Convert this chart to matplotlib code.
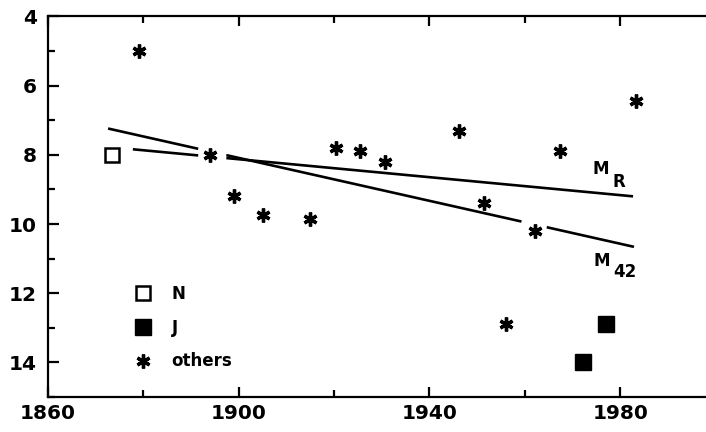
import numpy as np
import matplotlib
matplotlib.use('Agg')
import matplotlib.pyplot as plt
from matplotlib.ticker import FixedLocator, MultipleLocator

# observations
others_year = [1879, 1894, 1899, 1905, 1915, 1920.4, 1925.4, 1930.7, 1946.2,
               1951.5, 1956, 1962.2, 1967.4, 1983.3]
others_val = [5.0, 8.0, 9.2, 9.75, 9.85, 7.8, 7.9, 8.2, 7.3,
              9.4, 12.9, 10.2, 7.9, 6.45]
n_year = [1873.5]
n_val = [8.0]
j_year = [1977.1, 1972.2]
j_val = [12.9, 14.0]

# fitted trends: (start year, start value, end year, end value), with gaps
mr_line = (1877.8, 7.84, 1982.7, 9.2)
mr_gaps = [(1891.5, 1897.4)]
m42_line = (1872.6, 7.24, 1982.9, 10.66)
m42_gaps = [(1891.5, 1897.4), (1959.3, 1964.6)]

year_ticks = [1860, 1900, 1940, 1980]


def broken_line(line, gaps):
    x0, y0, x1, y1 = line
    xs = [x0]
    for a, b in gaps:
        xs += [a, np.nan, b]
    xs.append(x1)
    xs = np.array(xs, dtype=float)
    ys = np.interp(xs, [x0, x1], [y0, y1])
    ys[np.isnan(xs)] = np.nan
    return xs, ys


plt.rcParams['font.family'] = 'DejaVu Sans'
plt.rcParams['font.weight'] = 'bold'

fig = plt.figure(figsize=(7.06, 4.32), dpi=100)
ax = fig.add_axes([0.068, 0.081, 0.932, 0.881])

for line, gaps in [(mr_line, mr_gaps), (m42_line, m42_gaps)]:
    xs, ys = broken_line(line, gaps)
    ax.plot(xs, ys, color='black', lw=1.9, solid_capstyle='butt')

h_n, = ax.plot(n_year, n_val, ls='none', marker='s', ms=10.5,
               mfc='white', mec='black', mew=1.8)
h_j, = ax.plot(j_year, j_val, ls='none', marker='s', ms=11,
               mfc='black', mec='black')
h_o, = ax.plot(others_year, others_val, ls='none', marker=(6, 2, 0), ms=10,
               mec='black', mew=2.4)

# line labels
ax.annotate('M', (mr_line[2], mr_line[3]), xytext=(-29, 16),
            textcoords='offset points', fontsize=12, fontweight='bold')
ax.annotate('R', (mr_line[2], mr_line[3]), xytext=(-15, 7),
            textcoords='offset points', fontsize=12, fontweight='bold')
ax.annotate('M', (m42_line[2], m42_line[3]), xytext=(-29, -14),
            textcoords='offset points', fontsize=12, fontweight='bold')
ax.annotate('42', (m42_line[2], m42_line[3]), xytext=(-15, -22),
            textcoords='offset points', fontsize=12, fontweight='bold')

ax.legend([h_n, h_j, h_o], ['N', 'J', 'others'], loc='upper left',
          bbox_to_anchor=(0.131, 0.295), frameon=False, fontsize=12,
          handlelength=1.0, handletextpad=1.25, labelspacing=0.95,
          borderpad=0, borderaxespad=0)

ax.set_xlim(1860, 1998)
ax.set_ylim(15, 4)
ax.xaxis.set_major_locator(FixedLocator(year_ticks))
ax.xaxis.set_minor_locator(MultipleLocator(20))
ax.yaxis.set_major_locator(MultipleLocator(2))
ax.yaxis.set_minor_locator(MultipleLocator(1))

ax.spines['right'].set_visible(False)
for s in ['left', 'top', 'bottom']:
    ax.spines[s].set_linewidth(1.6)

ax.tick_params(which='both', direction='in', top=True, right=False,
               width=1.6, labelsize=14.5)
ax.tick_params(axis='x', which='major', length=7, pad=5)
ax.tick_params(axis='x', which='minor', length=5)
ax.tick_params(axis='y', which='major', length=8, pad=8)
ax.tick_params(axis='y', which='minor', length=5)
for lab in ax.get_xticklabels() + ax.get_yticklabels():
    lab.set_fontweight('bold')

fig.savefig('out.png', dpi=100)
